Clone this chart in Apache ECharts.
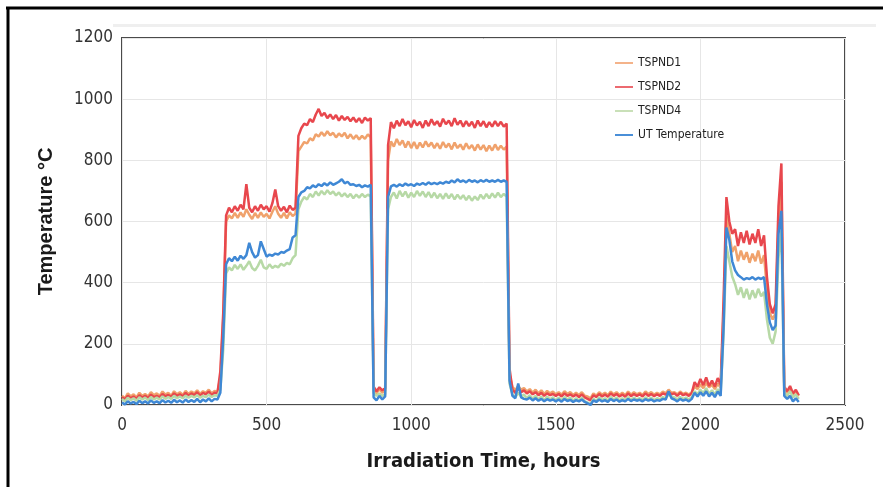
<!DOCTYPE html>
<html><head><meta charset="utf-8">
<script src="https://cdn.jsdelivr.net/npm/echarts@6/dist/echarts.min.js"></script>
<style>html,body{margin:0;padding:0;background:#fff}#c{width:883px;height:487px}</style>
</head><body><div id="c"></div>
<script>
const hours = [
0,10,20,30,40,50,60,70,80,90,
100,110,120,130,140,150,160,170,180,190,
200,210,220,230,240,250,260,270,280,290,
300,310,320,330,340,350,360,370,380,390,
400,410,420,430,440,450,460,470,480,490,
500,510,520,530,540,550,560,570,580,590,
600,610,620,630,640,650,660,670,680,690,
700,710,720,730,740,750,760,770,780,790,
800,810,820,830,840,850,860,870,880,890,
900,910,920,930,940,950,960,970,980,990,
1000,1010,1020,1030,1040,1050,1060,1070,1080,1090,
1100,1110,1120,1130,1140,1150,1160,1170,1180,1190,
1200,1210,1220,1230,1240,1250,1260,1270,1280,1290,
1300,1310,1320,1330,1340,1350,1360,1370,1380,1390,
1400,1410,1420,1430,1440,1450,1460,1470,1480,1490,
1500,1510,1520,1530,1540,1550,1560,1570,1580,1590,
1600,1610,1620,1630,1640,1650,1660,1670,1680,1690,
1700,1710,1720,1730,1740,1750,1760,1770,1780,1790,
1800,1810,1820,1830,1840,1850,1860,1870,1880,1890,
1900,1910,1920,1930,1940,1950,1960,1970,1980,1990,
2000,2010,2020,2030,2040,2050,2060,2070,2080,2090,
2100,2110,2120,2130,2140,2150,2160,2170,2180,2190,
2200,2210,2220,2230,2240,2250,2260,2270,2280,2290,
2300,2310,2320,2330,2340];

const tspnd1 = [
30,22,38,28,35,25,40,30,36,28,
42,32,38,30,44,34,40,30,45,35,
42,33,46,36,44,38,48,36,45,40,
50,38,46,42,90,280,600,620,610,628,
612,630,615,640,622,608,628,612,630,615,
625,610,632,650,625,612,628,610,630,618,
625,830,845,860,855,872,865,885,878,892,
880,895,882,890,875,888,878,890,872,885,
870,882,868,880,870,885,875,50,38,52,
40,48,800,862,845,870,850,865,842,862,
840,860,838,858,842,862,845,858,840,856,
838,860,842,855,836,858,840,852,835,856,
838,850,832,852,835,850,830,848,832,852,
834,848,835,845,100,60,48,62,50,55,
44,52,40,50,38,48,36,46,38,44,
35,42,34,45,36,42,33,40,32,42,
30,28,22,38,30,42,34,40,32,44,
35,42,33,40,32,44,34,42,35,40,
33,44,36,42,34,40,35,44,38,50,
40,42,35,44,36,40,34,42,60,52,
68,55,72,58,66,52,70,56,300,620,
560,500,520,470,505,475,500,465,495,470,
505,462,490,380,300,280,300,600,730,50,
40,55,35,45,30];

const tspnd2 = [
25,18,30,22,28,20,32,24,30,22,
34,26,30,25,36,28,33,26,38,30,
35,28,40,30,38,32,42,30,40,35,
44,32,40,38,110,300,620,645,630,650,
635,655,640,722,645,630,650,635,655,640,
650,632,660,705,650,635,648,630,652,638,
645,880,905,920,915,935,925,950,968,945,
955,938,950,935,948,930,945,932,942,928,
940,925,938,922,940,930,938,60,45,58,
48,55,850,925,905,930,912,935,915,928,
908,932,914,926,906,930,912,934,916,928,
910,936,918,930,912,938,916,930,910,928,
912,926,906,930,912,928,908,925,910,928,
912,926,910,920,120,50,40,55,42,48,
38,45,35,42,32,40,30,38,32,36,
30,36,28,38,30,35,28,34,26,35,
25,20,15,32,26,36,28,34,27,38,
30,36,28,34,27,38,29,36,30,35,
28,38,30,36,29,35,30,38,34,42,
35,38,30,40,32,36,30,38,75,60,
85,65,90,62,80,60,88,65,340,680,
600,560,575,520,565,530,570,525,560,530,
575,520,555,420,330,300,330,650,790,60,
45,62,38,50,32];

const tspnd4 = [
20,12,24,16,22,14,25,18,24,16,
26,18,24,18,28,20,26,20,30,22,
28,22,30,24,30,25,32,24,30,26,
34,26,32,30,50,180,430,450,440,458,
445,460,442,455,470,448,440,455,475,450,
445,460,448,455,450,462,455,465,460,480,
490,640,665,680,672,690,680,698,685,700,
688,702,690,698,685,695,682,692,680,690,
676,688,678,690,680,688,682,40,30,38,
30,35,640,680,695,675,700,682,698,678,
694,680,700,684,698,680,696,678,694,676,
690,674,692,676,690,672,688,674,686,670,
684,668,682,670,688,674,690,676,692,678,
694,680,690,682,70,35,25,40,28,34,
22,32,20,30,18,28,16,27,18,25,
15,24,16,26,18,24,14,22,15,24,
12,8,3,20,14,25,16,22,15,26,
18,24,15,22,16,26,17,24,18,22,
16,25,18,24,16,22,18,26,22,35,
28,25,18,26,20,24,18,25,45,35,
50,38,55,36,48,34,52,38,230,520,
470,420,395,360,385,350,380,345,375,350,
380,355,370,280,220,200,240,480,570,40,
30,45,25,35,20];

const utTemp = [
8,2,12,5,10,3,14,6,12,5,
15,7,12,6,16,8,14,7,17,9,
15,8,18,10,16,10,20,9,18,12,
22,12,20,18,40,220,460,480,470,485,
472,488,478,490,530,500,482,490,535,510,
485,492,488,495,492,500,498,505,510,548,
555,680,695,700,712,708,718,712,722,716,
725,718,728,720,725,730,738,725,730,720,
722,716,720,712,718,714,720,25,15,30,
18,28,680,715,720,714,722,716,724,718,
722,716,724,720,726,720,728,722,726,722,
728,724,730,726,734,728,738,730,734,728,
736,730,734,728,735,730,736,730,734,730,
736,730,734,730,80,30,22,70,25,20,
18,24,15,22,14,20,12,19,14,18,
12,18,11,20,13,17,10,16,12,18,
10,5,0,15,10,18,12,16,10,20,
13,18,11,16,12,20,13,18,14,17,
12,19,14,18,12,16,14,20,18,45,
22,18,12,20,14,18,12,20,40,28,
42,30,45,28,40,26,44,30,250,580,
540,470,440,425,418,410,415,412,418,410,
416,412,418,330,270,245,260,560,635,30,
20,30,12,22,10];

const seriesNames = ['TSPND1','TSPND2','TSPND4','UT Temperature'];
const xTicks = {min:0, max:2500, step:500};
const yTicks = {min:0, max:1200, step:200};

const lineColors = ['#f0a26c','#e8474d','#b7d9a6','#3f88d5'];
const legendColors = ['#f4b38a','#ec6a70','#c9e0b8','#4a8fd8'];
const values = [tspnd1, tspnd2, tspnd4, utTemp];

const NARROW = "'DejaVu Sans Condensed', 'Liberation Sans Narrow', 'Liberation Sans', sans-serif";
const chart = echarts.init(document.getElementById('c'), null, {renderer:'canvas'});
const tickFont = {fontFamily:NARROW, fontSize:17, color:'#333', formatter: v => String(v)};

chart.setOption({
  animation:false,
  backgroundColor:'#fff',
  grid:{left:122, right:38, top:38, bottom:82, show:true, borderColor:'#4a4a4a', borderWidth:2, backgroundColor:'transparent'},
  legend:{
    orient:'vertical', left:610, top:51, itemGap:10, itemWidth:18, itemHeight:2, icon:'rect',
    textStyle:{fontFamily:NARROW, fontSize:12, lineHeight:14, color:'#222'},
    data: seriesNames.map((n,i)=>({name:n, itemStyle:{color:legendColors[i]}}))
  },
  xAxis:{
    type:'value', min:xTicks.min, max:xTicks.max, interval:xTicks.step,
    name:'Irradiation Time, hours', nameLocation:'middle', nameGap:47,
    nameTextStyle:{fontFamily:NARROW, fontWeight:'bold', fontSize:20, color:'#1a1a1a'},
    axisLine:{show:false}, axisTick:{show:false},
    axisLabel:Object.assign({margin:12}, tickFont),
    splitLine:{show:true, lineStyle:{color:'#e6e6e6', width:1}}
  },
  yAxis:{
    type:'value', min:yTicks.min, max:yTicks.max, interval:yTicks.step,
    name:'Temperature °C', nameLocation:'middle', nameGap:66,
    nameTextStyle:{fontFamily:"'Liberation Sans', sans-serif", fontWeight:'bold', fontSize:20, color:'#1a1a1a'},
    axisLine:{show:false}, axisTick:{show:false},
    axisLabel:Object.assign({margin:9}, tickFont),
    splitLine:{show:true, lineStyle:{color:'#e6e6e6', width:1}}
  },
  graphic:[
    {type:'rect', shape:{x:113, y:24, width:763, height:3}, style:{fill:'#efefef'}, z:-1},
    {type:'line', shape:{x1:6, y1:8, x2:883, y2:8}, style:{stroke:'#000', lineWidth:3}},
    {type:'line', shape:{x1:8, y1:7, x2:8, y2:487}, style:{stroke:'#000', lineWidth:3}}
  ],
  series: seriesNames.map((n,i)=>({
    name:n, type:'line', showSymbol:false, symbol:'none',
    data: hours.map((h,k)=>[h, values[i][k]]),
    color: lineColors[i],
    lineStyle:{color:lineColors[i], width:2.5},
    z: 2+i
  }))
});
</script></body></html>
